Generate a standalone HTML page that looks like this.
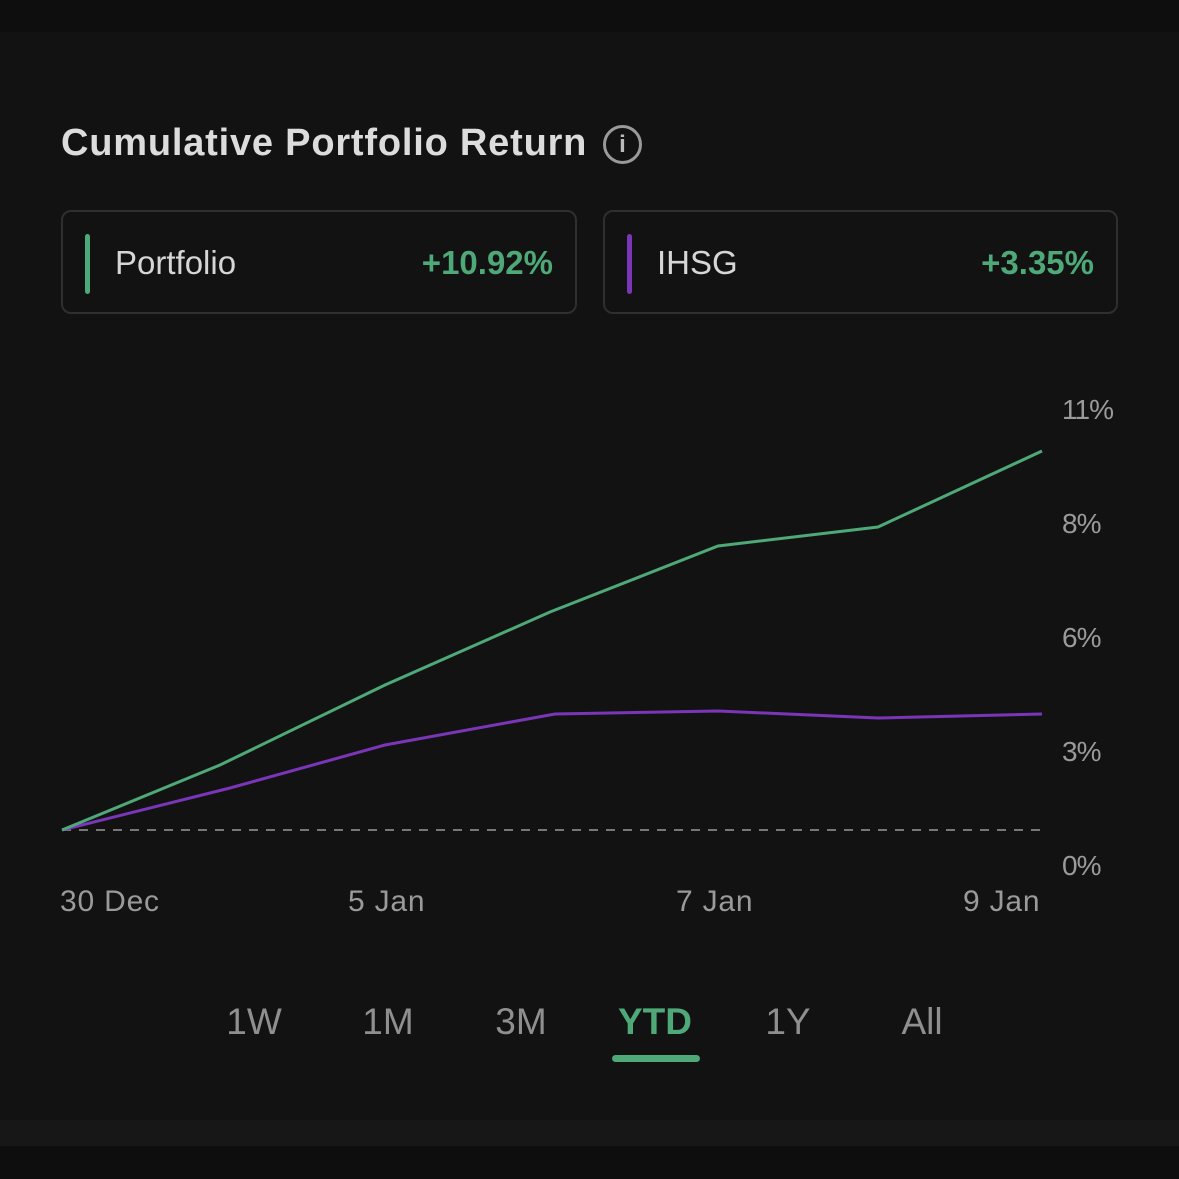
<!DOCTYPE html>
<html><head><style>
body{margin:0;width:1179px;height:1179px;background:#0e0e0e;font-family:"Liberation Sans",sans-serif;overflow:hidden;position:relative}
.panel{position:absolute;left:0;top:32px;width:1179px;height:1088px;background:#121212}
.strip{position:absolute;left:0;top:1120px;width:1179px;height:26px;background:#171717}
.t{position:absolute;white-space:nowrap}
.card{position:absolute;top:210px;height:104px;border:2px solid #2f2f2f;border-radius:10px;box-sizing:border-box}
.bar{position:absolute;left:22px;top:22px;width:5px;height:60px;border-radius:3px}
</style></head><body>
<div class="panel"></div><div class="strip"></div>
<div class="t" style="left:61px;top:122px;font-size:38px;letter-spacing:0.8px;font-weight:bold;color:#dcdcdc">Cumulative Portfolio Return</div>
<div style="position:absolute;left:603px;top:125px;width:39px;height:39px;border:3px solid #9a9a9a;border-radius:50%;box-sizing:border-box;color:#bbb;font-weight:bold;font-size:24px;text-align:center;line-height:33px">i</div>
<div class="card" style="left:61px;width:516px"><div class="bar" style="background:#4ea878"></div>
<div class="t" style="left:52px;top:32px;font-size:33px;color:#d6d6d6">Portfolio</div>
<div class="t" style="right:22px;top:32px;font-size:33px;font-weight:bold;color:#4ea878">+10.92%</div></div>
<div class="card" style="left:603px;width:515px"><div class="bar" style="background:#7b35b8"></div>
<div class="t" style="left:52px;top:32px;font-size:33px;color:#d6d6d6">IHSG</div>
<div class="t" style="right:22px;top:32px;font-size:33px;font-weight:bold;color:#4ea878">+3.35%</div></div>
<svg width="1179" height="1179" style="position:absolute;left:0;top:0">
<line x1="62" y1="830" x2="1042" y2="830" stroke="#777" stroke-width="2" stroke-dasharray="9,8"/>
<polyline fill="none" stroke="#7b35b8" stroke-width="3" points="62,830 230,788 385,745 555,714 718,711 878,718 1042,714"/>
<polyline fill="none" stroke="#4ea878" stroke-width="3" points="62,830 220,765 385,685 550,612 718,546 878,527 1042,451"/>
<g fill="#9a9a9a" font-size="28" font-family="Liberation Sans" letter-spacing="-1">
<text x="1062" y="419">11%</text><text x="1062" y="533">8%</text><text x="1062" y="647">6%</text><text x="1062" y="761">3%</text><text x="1062" y="875">0%</text>
</g>
<g fill="#9a9a9a" font-size="30" font-family="Liberation Sans" letter-spacing="0.8">
<text x="60" y="911">30 Dec</text><text x="348" y="911">5 Jan</text><text x="676" y="911">7 Jan</text><text x="963" y="911">9 Jan</text>
</g>
<g fill="#8f8f8f" font-size="37" font-family="Liberation Sans" text-anchor="middle">
<text x="254" y="1034">1W</text><text x="388" y="1034">1M</text><text x="521" y="1034">3M</text>
<text x="655" y="1034" fill="#4ea878" font-weight="bold">YTD</text><text x="788" y="1034">1Y</text><text x="922" y="1034">All</text>
</g>
<rect x="612" y="1055" width="88" height="7" rx="3.5" fill="#4ea878"/>
</svg>
</body></html>
